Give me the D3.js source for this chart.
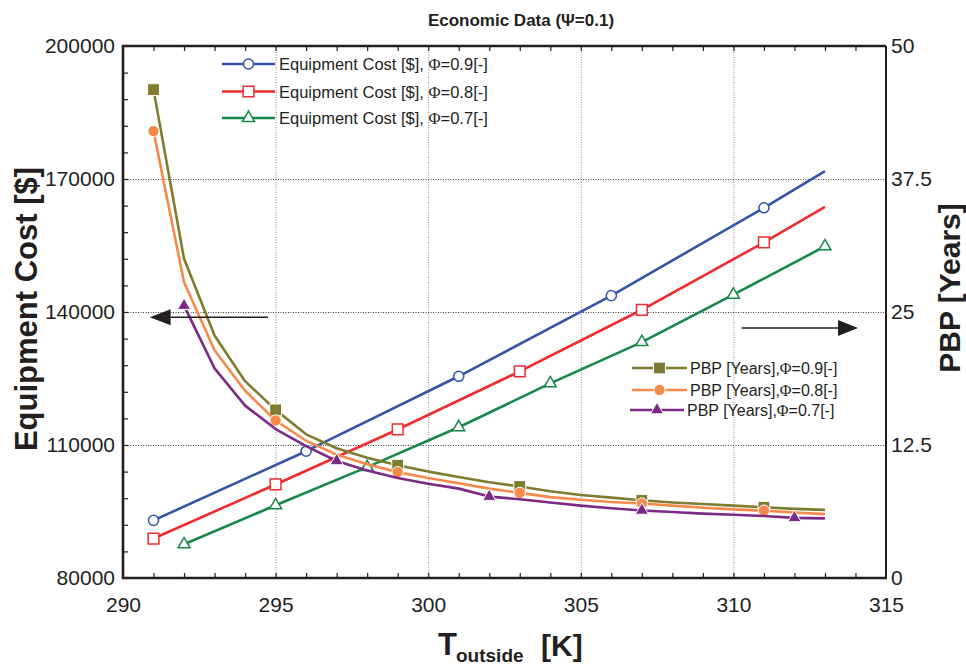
<!DOCTYPE html>
<html>
<head>
<meta charset="utf-8">
<script src="https://cdn.jsdelivr.net/npm/d3@7"></script>
<style>
  body { margin: 0; background: #fff; }
  text { font-family: "Liberation Sans", Arial, Helvetica, sans-serif; fill: #231f20; }
</style>
</head>
<body>
<svg id="chart" width="966" height="665"></svg>
<script>
// ---- Equipment cost series (left axis, $) ----
const costT09 = [291, 296, 301, 306, 311, 313];
const cost09  = [93000, 108600, 125500, 143700, 163500, 171800];
const costMarkT09 = [291, 296, 301, 306, 311];

const costT08 = [291, 295, 299, 303, 307, 311, 313];
const cost08  = [88900, 101100, 113500, 126600, 140500, 155700, 163700];
const costMarkT08 = [291, 295, 299, 303, 307, 311];

const costT07 = [292, 295, 298, 301, 304, 307, 310, 313];
const cost07  = [87600, 96400, 105000, 114000, 123900, 133200, 143900, 154800];
const costMarkT07 = [292, 295, 298, 301, 304, 307, 310, 313];

// ---- Payback period series (right axis, years) ----
const pbpT98 = [291, 292, 293, 294, 295, 296, 297, 298, 299, 300, 301, 302,
                303, 304, 305, 306, 307, 308, 309, 310, 311, 312, 313];
const pbp09 = [45.9, 30.0, 22.8, 18.5, 15.8, 13.5, 12.2, 11.3, 10.6, 10.0, 9.5, 9.0,
               8.6, 8.15, 7.8, 7.55, 7.3, 7.1, 6.95, 6.8, 6.65, 6.5, 6.4];
const pbp08 = [42.0, 27.8, 21.4, 17.6, 14.8, 12.9, 11.6, 10.7, 9.95, 9.4, 8.9, 8.4,
               8.0, 7.6, 7.35, 7.15, 7.0, 6.8, 6.6, 6.45, 6.33, 6.15, 6.0];
const pbpMarkT98 = [291, 295, 299, 303, 307, 311];

const pbpT07 = [292, 293, 294, 295, 296, 297, 298, 299, 300, 301, 302,
                303, 304, 305, 306, 307, 308, 309, 310, 311, 312, 313];
const pbp07 = [25.6, 19.7, 16.2, 14.0, 12.4, 11.0, 10.1, 9.4, 8.85, 8.4, 7.65,
               7.4, 7.1, 6.8, 6.55, 6.35, 6.2, 6.05, 5.95, 5.83, 5.65, 5.6];
const pbpMarkT07 = [292, 297, 302, 307, 312];

// ---- Tick values ----
const xTicks = [290, 295, 300, 305, 310, 315];
const xMinor = d3.range(291, 315);
const yLeftTicks = [80000, 110000, 140000, 170000, 200000];
const yLeftMinor = d3.range(86000, 200000, 6000);
const yRightTicks = [0, 12.5, 25, 37.5, 50];

const svg = d3.select("#chart");
const box = { l: 123, r: 886, t: 46, b: 578 };

const x  = d3.scaleLinear().domain([290, 315]).range([box.l, box.r]);
const yL = d3.scaleLinear().domain([80000, 200000]).range([box.b, box.t]);
const yR = d3.scaleLinear().domain([0, 50]).range([box.b, box.t]);

// ---- Grid ----
const grid = svg.append("g");
grid.append("g").attr("transform", `translate(0,${box.b})`)
  .call(d3.axisBottom(x).tickValues([295, 300, 305, 310]).tickSize(-(box.b - box.t)).tickFormat(""))
  .call(g => g.select(".domain").remove())
  .selectAll("line").attr("stroke", "#8a8a8a").attr("stroke-width", 1).attr("stroke-dasharray", "1,1.5");
grid.append("g").attr("transform", `translate(${box.l},0)`)
  .call(d3.axisLeft(yL).tickValues([110000, 140000, 170000]).tickSize(-(box.r - box.l)).tickFormat(""))
  .call(g => g.select(".domain").remove())
  .selectAll("line").attr("stroke", "#3a3a3a").attr("stroke-width", 1).attr("stroke-dasharray", "1,1.5");

// ---- Series definitions ----
const costSeries = [
  { t: costT09, v: cost09, mt: costMarkT09, color: "#3355a5", sym: d3.symbolCircle, size: 80, open: true },
  { t: costT08, v: cost08, mt: costMarkT08, color: "#ee2b2e", sym: d3.symbolSquare, size: 115, open: true },
  { t: costT07, v: cost07, mt: costMarkT07, color: "#17884a", sym: d3.symbolTriangle, size: 62, open: true }
];
const pbpSeries = [
  { t: pbpT98, v: pbp09, mt: pbpMarkT98, color: "#7e7c2e", sym: d3.symbolSquare, size: 140, open: false },
  { t: pbpT98, v: pbp08, mt: pbpMarkT98, color: "#f58a4a", sym: d3.symbolCircle, size: 100, open: false },
  { t: pbpT07, v: pbp07, mt: pbpMarkT07, color: "#7b2a85", sym: d3.symbolTriangle, size: 75, open: false }
];

function drawSeries(s, yScale) {
  const pts = s.t.map((t, i) => [t, s.v[i]]);
  const line = d3.line().x(d => x(d[0])).y(d => yScale(d[1]));
  svg.append("path").datum(pts).attr("d", line)
    .attr("fill", "none").attr("stroke", s.color).attr("stroke-width", 2.6)
    .attr("stroke-linejoin", "round");
  const marks = s.mt.map(t => [t, s.v[s.t.indexOf(t)]]);
  svg.append("g").selectAll("path").data(marks).join("path")
    .attr("transform", d => `translate(${x(d[0])},${yScale(d[1])})`)
    .attr("d", d3.symbol().type(s.sym).size(s.size))
    .attr("fill", s.open ? "#fff" : s.color)
    .attr("stroke", s.open ? s.color : "#fff")
    .attr("stroke-width", s.open ? 1.5 : 1);
}
costSeries.forEach(s => drawSeries(s, yL));
pbpSeries.forEach(s => drawSeries(s, yR));

// ---- Legends ----
function legendRow(s, x0, x1, y, tx, label, phiVal, fs) {
  svg.append("line").attr("x1", x0).attr("x2", x1).attr("y1", y).attr("y2", y)
    .attr("stroke", s.color).attr("stroke-width", 2.6);
  svg.append("path").attr("transform", `translate(${(x0 + x1) / 2},${y})`)
    .attr("d", d3.symbol().type(s.sym).size(s.size))
    .attr("fill", s.open ? "#fff" : s.color)
    .attr("stroke", s.open ? s.color : "#fff")
    .attr("stroke-width", s.open ? 1.5 : 1);
  const t = svg.append("text").attr("x", tx).attr("y", y + 6).attr("font-size", fs);
  t.append("tspan").text(label);
  t.append("tspan").attr("font-family", "'Liberation Serif', 'DejaVu Serif', serif").text("\u03A6");
  t.append("tspan").text("=" + phiVal + "[-]");
}
const phis = ["0.9", "0.8", "0.7"];
const costRowsY = [64, 91.5, 118];
costSeries.forEach((s, i) =>
  legendRow(s, 222, 275, costRowsY[i], 279, "Equipment Cost [$], ", phis[i], 16.5));
const pbpRows = [[632, 687, 368, 690], [632, 687, 390, 690], [630, 684, 410, 687]];
pbpSeries.forEach((s, i) =>
  legendRow(s, pbpRows[i][0], pbpRows[i][1], pbpRows[i][2], pbpRows[i][3], "PBP [Years],", phis[i], 16));

// ---- Direction arrows (which axis each family reads from) ----
const arrowCost = { from: 294.75, base: 291.56, tip: 290.88, value: 138800 };
const arrowPbp  = { from: 310.27, base: 313.43, tip: 314.08, value: 23.5 };
function arrow(a, yScale) {
  const yy = yScale(a.value);
  svg.append("line").attr("x1", x(a.from)).attr("x2", x(a.base)).attr("y1", yy).attr("y2", yy)
    .attr("stroke", "#231f20").attr("stroke-width", 1.6);
  svg.append("path")
    .attr("d", `M${x(a.tip)},${yy}L${x(a.base)},${yy - 8}L${x(a.base)},${yy + 8}Z`)
    .attr("fill", "#231f20");
}
arrow(arrowCost, yL);
arrow(arrowPbp, yR);

// ---- Axes ----
const fsTick = 21;
svg.append("g").attr("transform", `translate(0,${box.b})`)
  .call(d3.axisBottom(x).tickValues(xMinor).tickSize(-5).tickFormat(""))
  .call(g => g.select(".domain").remove())
  .selectAll("line").attr("stroke", "#231f20").attr("stroke-width", 1.2);
svg.append("g").attr("transform", `translate(0,${box.t})`)
  .call(d3.axisTop(x).tickValues(xMinor).tickSize(-5).tickFormat(""))
  .call(g => g.select(".domain").remove())
  .selectAll("line").attr("stroke", "#231f20").attr("stroke-width", 1.2);
svg.append("g").attr("transform", `translate(${box.l},0)`)
  .call(d3.axisLeft(yL).tickValues(yLeftMinor).tickSize(-5).tickFormat(""))
  .call(g => g.select(".domain").remove())
  .selectAll("line").attr("stroke", "#231f20").attr("stroke-width", 1.2);

svg.append("g").attr("transform", `translate(0,${box.b})`)
  .call(d3.axisBottom(x).tickValues(xTicks).tickSize(0).tickPadding(19).tickFormat(d3.format("d")))
  .call(g => g.select(".domain").remove())
  .selectAll("text").attr("font-size", fsTick).attr("font-family", null);
svg.append("g").attr("transform", `translate(${box.l},0)`)
  .call(d3.axisLeft(yL).tickValues(yLeftTicks).tickSize(0).tickPadding(8).tickFormat(d3.format("d")))
  .call(g => g.select(".domain").remove())
  .selectAll("text").attr("font-size", fsTick).attr("font-family", null);
svg.append("g").attr("transform", `translate(${box.r},0)`)
  .call(d3.axisRight(yR).tickValues(yRightTicks).tickSize(0).tickPadding(5).tickFormat(d3.format("~g")))
  .call(g => g.select(".domain").remove())
  .selectAll("text").attr("font-size", fsTick).attr("font-family", null);

// frame
svg.append("path")
  .attr("d", `M${box.r},${box.t}H${box.l}V${box.b}H${box.r}`)
  .attr("fill", "none").attr("stroke", "#231f20").attr("stroke-width", 2.6);
svg.append("line").attr("x1", box.r).attr("x2", box.r).attr("y1", box.t).attr("y2", box.b + 1.3)
  .attr("stroke", "#231f20").attr("stroke-width", 2);

// ---- Titles ----
svg.append("text").attr("x", 521).attr("y", 26).attr("text-anchor", "middle")
  .attr("font-size", 17).attr("font-weight", "bold").text("Economic Data (\u03A8=0.1)");

svg.append("text").attr("transform", "translate(37,309) rotate(-90)")
  .attr("text-anchor", "middle").attr("font-size", 31).attr("font-weight", "bold")
  .text("Equipment Cost [$]");
svg.append("text").attr("transform", "translate(960,288) rotate(-90)")
  .attr("text-anchor", "middle").attr("font-size", 30).attr("font-weight", "bold")
  .text("PBP [Years]");

svg.append("text").attr("x", 438).attr("y", 655).attr("font-size", 31).attr("font-weight", "bold").text("T");
svg.append("text").attr("x", 456).attr("y", 662).attr("font-size", 19).attr("font-weight", "bold").text("outside");
svg.append("text").attr("x", 541).attr("y", 656).attr("font-size", 30).attr("font-weight", "bold").text("[K]");
</script>
</body>
</html>
